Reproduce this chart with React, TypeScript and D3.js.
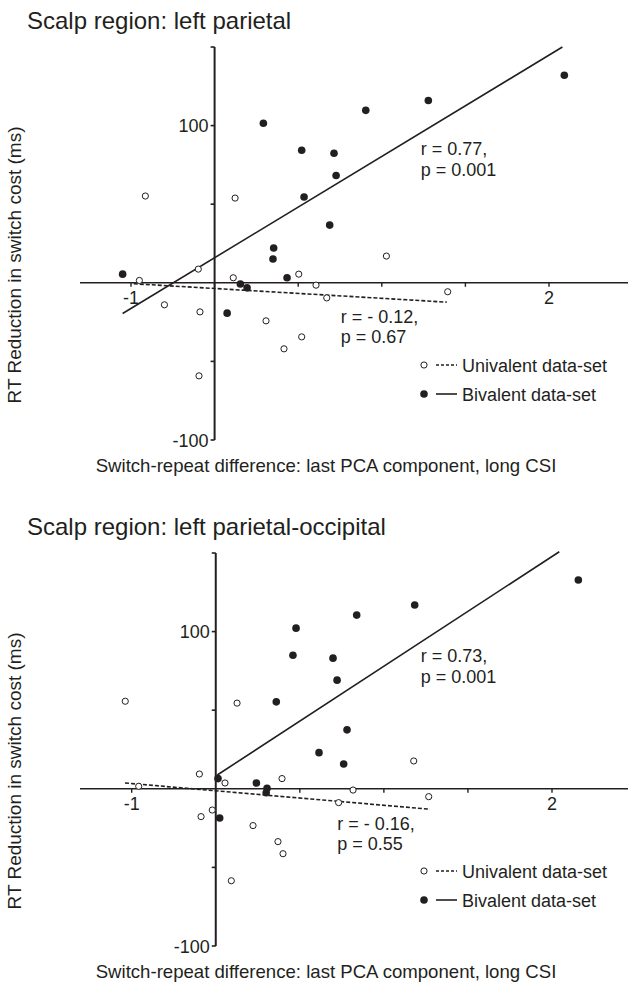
import React from "react";
import * as d3 from "d3";

// ---------- data ----------
const titles = ["Scalp region: left parietal", "Scalp region: left parietal-occipital"];
const yAxisLabel = "RT Reduction in switch cost (ms)";
const xAxisLabel = "Switch-repeat difference: last PCA component, long CSI";
const xTickValues = [-1, -0.4, 0.2, 0.8, 1.4, 2];
const xTickLabels = ["-1", "", "", "", "", "2"];
const yTickValues = [150, 100, 50, -50, -100];
const yTickLabels = ["", "100", "", "", "-100"];
const legendLabels = ["Univalent data-set", "Bivalent data-set"];

// Panel 1 (left parietal)
const uniTopX = [-0.897, -0.253, -0.517, -0.94, -0.266, 0.204, 0.328, 0.833, -0.76, -0.505, -0.512, -0.031, 0.098, 0.225, 0.405, 1.273];
const uniTopY = [55.2, 53.9, 8.7, 1.5, 3.2, 5.5, -1.5, 17, -14, -18.5, -59.2, -24.2, -42, -34.4, -9.6, -5.7];
const biTopX = [-1.06, -0.05, 0.225, 0.457, 0.472, 0.242, 0.426, 0.024, 0.019, 0.12, 0.685, -0.215, -0.167, -0.31, 1.134, 2.11];
const biTopY = [5.5, 101.5, 84.3, 82.4, 68.3, 54.6, 36.7, 22.1, 15.1, 3.2, 109.7, -0.8, -3.2, -19.3, 116, 132];
const uniTopFitX = [-0.98, 1.266];
const uniTopFitY = [-0.6, -12.3];
const biTopFitX = [-1.06, 2.096];
const biTopFitY = [-19.5, 150];
const statsTop = [["r = 0.77,", "p = 0.001"], ["r = - 0.12,", "p = 0.67"]];

// Panel 2 (left parietal-occipital)
const uniBotX = [-1.046, -0.248, -0.517, -0.95, -0.334, 0.073, 0.58, 1.013, -0.505, -0.425, -0.134, 0.044, 0.08, -0.289, 0.477, 1.12];
const uniBotY = [55.7, 54.5, 9.4, 1.6, 3.7, 6.5, -0.8, 17.7, -17.7, -13.5, -23.4, -33.6, -41.3, -58.5, -8.8, -5];
const biBotX = [0.173, 0.151, 0.437, 0.466, 0.032, 0.606, 0.537, 0.337, 0.513, -0.384, -0.11, -0.034, -0.04, -0.372, 1.02, 2.188];
const biBotY = [102.2, 85, 83.1, 69.1, 55.3, 110.5, 37.5, 23, 15.8, 6.5, 3.7, 0.3, -2.5, -18.6, 116.9, 132.8];
const uniBotFitX = [-1.048, 1.129];
const uniBotFitY = [3.7, -13];
const biBotFitX = [-0.389, 2.052];
const biBotFitY = [8.8, 150.8];
const statsBot = [["r = 0.73,", "p = 0.001"], ["r = - 0.16,", "p = 0.55"]];

const INK = "#231f20";
const FONT = "'Liberation Sans', Arial, Helvetica, sans-serif";

type PanelProps = {
  top: number;
  x0: number;
  x1: number;
  title: string;
  uniX: number[]; uniY: number[]; biX: number[]; biY: number[];
  uniFitX: number[]; uniFitY: number[]; biFitX: number[]; biFitY: number[];
  stats: string[][];
  biStatPos: [number, number];
  uniStatPos: [number, number];
};

function Panel(p: PanelProps) {
  const x = d3.scaleLinear().domain([-1, 2]).range([p.x0, p.x1]);
  const y = d3.scaleLinear().domain([-100, 150]).range([p.top + 393, p.top]);
  const axisX = x(-0.4);
  const y0 = y(0);
  const line = d3.line<[number, number]>().x((d) => x(d[0])).y((d) => y(d[1]));
  const uniFit = line(p.uniFitX.map((v, i) => [v, p.uniFitY[i]] as [number, number]))!;
  const biFit = line(p.biFitX.map((v, i) => [v, p.biFitY[i]] as [number, number]))!;
  const legX = 424;
  const legY1 = p.top + 318;
  const legY2 = p.top + 347;
  return (
    <g>
      <text x={27} y={p.top - 18} fontSize={24} fill={INK} fontFamily={FONT}>{p.title}</text>
      {/* y-axis label */}
      <text transform={`translate(21,${p.top + 218}) rotate(-90)`} textAnchor="middle" fontSize={19} fill={INK} fontFamily={FONT}>{yAxisLabel}</text>
      {/* x axis */}
      <line x1={80} x2={628} y1={y0} y2={y0} stroke={INK} strokeWidth={1.6} />
      {xTickValues.map((v, i) => (
        <g key={"xt" + i}>
          <line x1={x(v)} x2={x(v)} y1={y0} y2={y0 + 4} stroke={INK} strokeWidth={1.4} />
          {xTickLabels[i] && (
            <text x={x(v)} y={y0 + 21} textAnchor="middle" fontSize={18} fill={INK} fontFamily={FONT}>{xTickLabels[i]}</text>
          )}
        </g>
      ))}
      {/* y axis */}
      <line x1={axisX} x2={axisX} y1={y(150)} y2={y(-100)} stroke={INK} strokeWidth={2} />
      {yTickValues.map((v, i) => (
        <g key={"yt" + i}>
          <line x1={axisX - 4} x2={axisX} y1={y(v)} y2={y(v)} stroke={INK} strokeWidth={1.6} />
          {yTickLabels[i] && (
            <text x={axisX - 6} y={y(v) + 6.5} textAnchor="end" fontSize={18} fill={INK} fontFamily={FONT}>{yTickLabels[i]}</text>
          )}
        </g>
      ))}
      <text x={326} y={p.top + 425} textAnchor="middle" fontSize={18.6} fill={INK} fontFamily={FONT}>{xAxisLabel}</text>
      {/* fits */}
      <path d={biFit} stroke={INK} strokeWidth={1.6} fill="none" />
      <path d={uniFit} stroke={INK} strokeWidth={1.6} fill="none" strokeDasharray="4,2" />
      {/* points */}
      {p.uniX.map((v, i) => (
        <circle key={"u" + i} cx={x(v)} cy={y(p.uniY[i])} r={3.1} fill="#fff" stroke={INK} strokeWidth={1} />
      ))}
      {p.biX.map((v, i) => (
        <circle key={"b" + i} cx={x(v)} cy={y(p.biY[i])} r={3.8} fill={INK} />
      ))}
      {/* stats */}
      <text x={p.biStatPos[0]} y={p.biStatPos[1]} fontSize={18} fill={INK} fontFamily={FONT}>{p.stats[0][0]}</text>
      <text x={p.biStatPos[0]} y={p.biStatPos[1] + 21} fontSize={18} fill={INK} fontFamily={FONT}>{p.stats[0][1]}</text>
      <text x={p.uniStatPos[0]} y={p.uniStatPos[1]} fontSize={18} fill={INK} fontFamily={FONT}>{p.stats[1][0]}</text>
      <text x={p.uniStatPos[0]} y={p.uniStatPos[1] + 20} fontSize={18} fill={INK} fontFamily={FONT}>{p.stats[1][1]}</text>
      {/* legend */}
      <circle cx={legX} cy={legY1} r={3.1} fill="#fff" stroke={INK} strokeWidth={1} />
      <line x1={legX + 12} x2={legX + 33} y1={legY1} y2={legY1} stroke={INK} strokeWidth={1.5} strokeDasharray="3,2" />
      <text x={legX + 38} y={legY1 + 6.5} fontSize={18} fill={INK} fontFamily={FONT}>{legendLabels[0]}</text>
      <circle cx={legX} cy={legY2} r={3.8} fill={INK} />
      <line x1={legX + 12} x2={legX + 33} y1={legY2} y2={legY2} stroke={INK} strokeWidth={1.6} />
      <text x={legX + 38} y={legY2 + 6.5} fontSize={18} fill={INK} fontFamily={FONT}>{legendLabels[1]}</text>
    </g>
  );
}

export default function App() {
  return (
    <svg width={628} height={982} style={{ position: "absolute", left: 0, top: 0, background: "#fff" }}>
      <rect width={628} height={982} fill="#fff" />
      <Panel top={47} x0={131} x1={549} title={titles[0]}
        uniX={uniTopX} uniY={uniTopY} biX={biTopX} biY={biTopY}
        uniFitX={uniTopFitX} uniFitY={uniTopFitY} biFitX={biTopFitX} biFitY={biTopFitY}
        stats={statsTop} biStatPos={[420.7, 155]} uniStatPos={[340.7, 323.3]} />
      <Panel top={553} x0={131.7} x1={552} title={titles[1]}
        uniX={uniBotX} uniY={uniBotY} biX={biBotX} biY={biBotY}
        uniFitX={uniBotFitX} uniFitY={uniBotFitY} biFitX={biBotFitX} biFitY={biBotFitY}
        stats={statsBot} biStatPos={[420.7, 661.7]} uniStatPos={[337.3, 830]} />
    </svg>
  );
}
